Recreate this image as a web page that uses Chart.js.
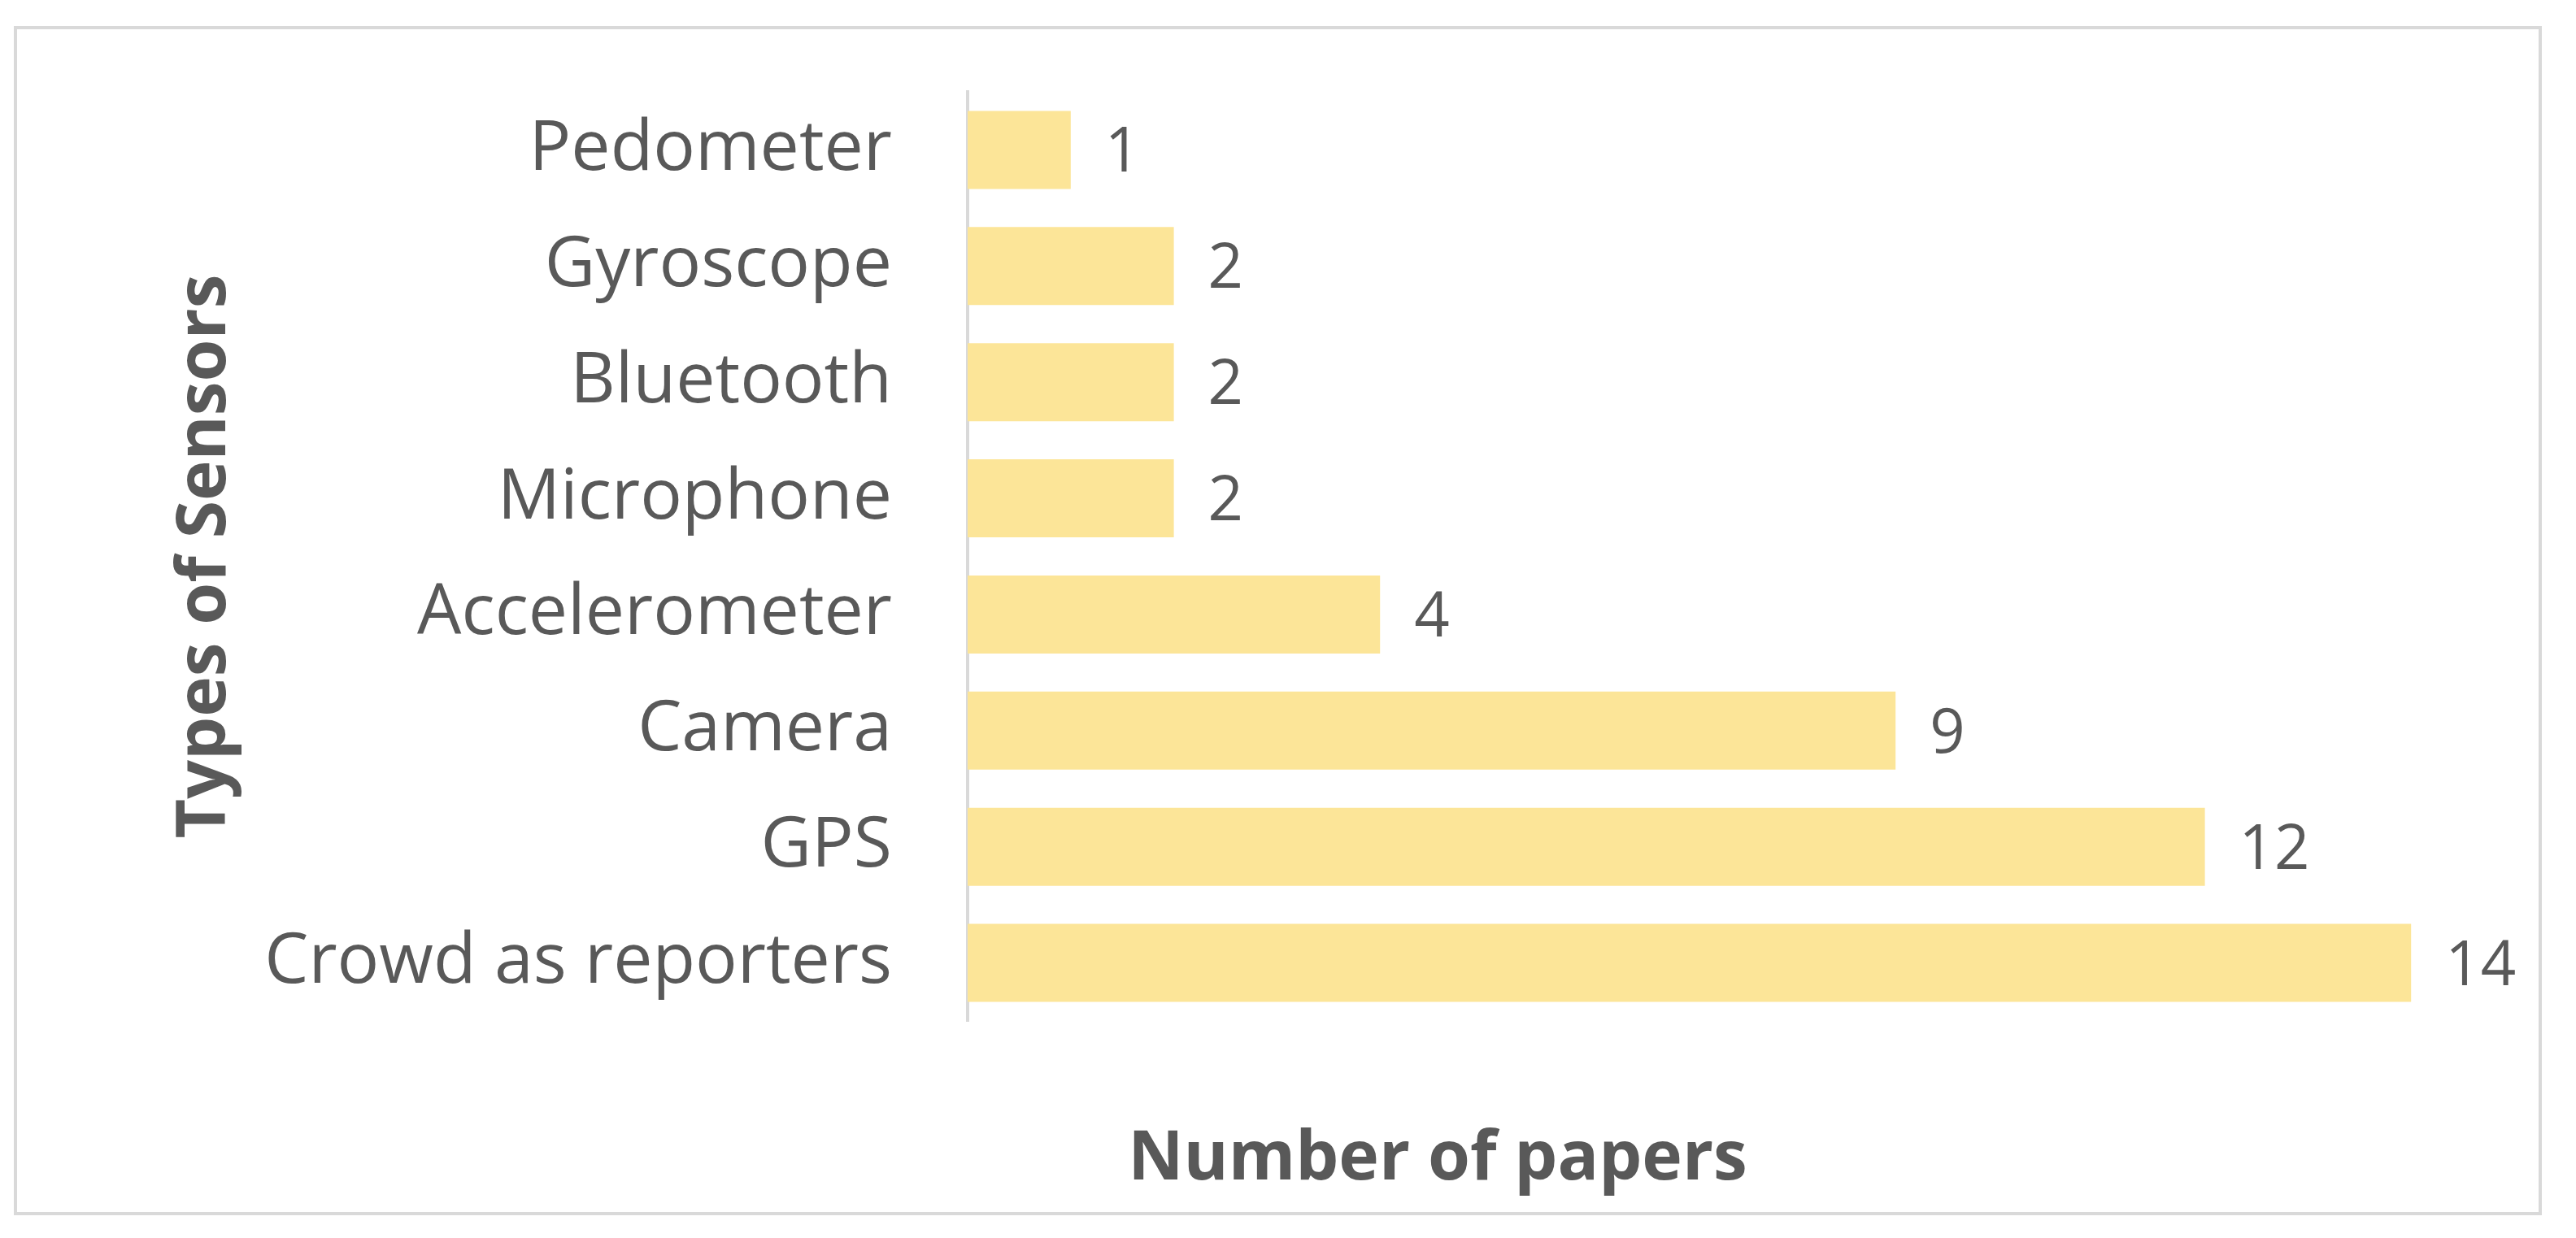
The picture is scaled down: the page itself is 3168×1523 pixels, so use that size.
<!DOCTYPE html>
<html>
<head>
<meta charset="utf-8">
<script src="https://cdn.jsdelivr.net/npm/chart.js@4.4.1/dist/chart.umd.min.js"></script>
<style>
  html, body { margin: 0; padding: 0; background: #ffffff; }
  canvas { display: block; }
</style>
</head>
<body>
<canvas id="c" width="3168" height="1523"></canvas>
<script>
const categories = ["Pedometer", "Gyroscope", "Bluetooth", "Microphone", "Accelerometer", "Camera", "GPS", "Crowd as reporters"];
const paperCounts = [1, 2, 2, 2, 4, 9, 12, 14];
const xAxisTitle = "Number of papers";
const yAxisTitle = "Types of Sensors";

const TEXT = "#595959";
const FONT = "'Open Sans', 'Noto Sans', sans-serif";

const framePlugin = {
  id: "frame",
  beforeDraw(chart) {
    const ctx = chart.ctx;
    ctx.save();
    ctx.fillStyle = "#ffffff";
    ctx.fillRect(0, 0, chart.width, chart.height);
    ctx.strokeStyle = "#d9d9d9";
    ctx.lineWidth = 4;
    ctx.strokeRect(19, 34, 3105, 1459);
    ctx.restore();
  }
};

const labelsPlugin = {
  id: "valueLabels",
  afterDatasetsDraw(chart) {
    const ctx = chart.ctx;
    const meta = chart.getDatasetMeta(0);
    const data = chart.data.datasets[0].data;
    ctx.save();
    ctx.fillStyle = TEXT;
    ctx.font = "76px " + FONT;
    ctx.textAlign = "left";
    ctx.textBaseline = "alphabetic";
    meta.data.forEach((bar, i) => {
      ctx.fillText(String(data[i]), bar.x + 42, bar.y + 27);
    });
    ctx.restore();
  }
};

const titlesPlugin = {
  id: "axisTitles",
  afterDraw(chart) {
    const ctx = chart.ctx;
    const area = chart.chartArea;
    ctx.save();
    ctx.fillStyle = TEXT;
    ctx.font = "bold 84px " + FONT;
    ctx.textAlign = "center";
    ctx.textBaseline = "alphabetic";
    ctx.fillText(xAxisTitle, 1768, 1451);
    ctx.translate(277, (area.top + area.bottom) / 2);
    ctx.rotate(-Math.PI / 2);
    ctx.fillText(yAxisTitle, 0, 0);
    ctx.restore();
  }
};

new Chart(document.getElementById("c"), {
  type: "bar",
  data: {
    labels: categories,
    datasets: [{
      data: paperCounts,
      backgroundColor: "#FCE598",
      borderWidth: 0,
      barPercentage: 0.672,
      categoryPercentage: 1.0
    }]
  },
  options: {
    indexAxis: "y",
    responsive: false,
    animation: false,
    devicePixelRatio: 1,
    layout: { padding: { top: 113, bottom: 267, right: 76, left: 0 } },
    plugins: {
      legend: { display: false },
      tooltip: { enabled: false },
      title: { display: false }
    },
    scales: {
      x: {
        display: false,
        min: 0,
        max: 15
      },
      y: {
        afterFit(scale) {
          scale.width = 1190;
          scale.paddingTop = 0;
          scale.paddingBottom = 0;
        },
        grid: { display: false, drawTicks: false },
        border: { display: true, color: "#d9d9d9", width: 4 },
        ticks: {
          color: TEXT,
          padding: 93,
          font: { family: FONT, size: 86 }
        }
      }
    }
  },
  plugins: [framePlugin, labelsPlugin, titlesPlugin]
});
</script>
</body>
</html>
